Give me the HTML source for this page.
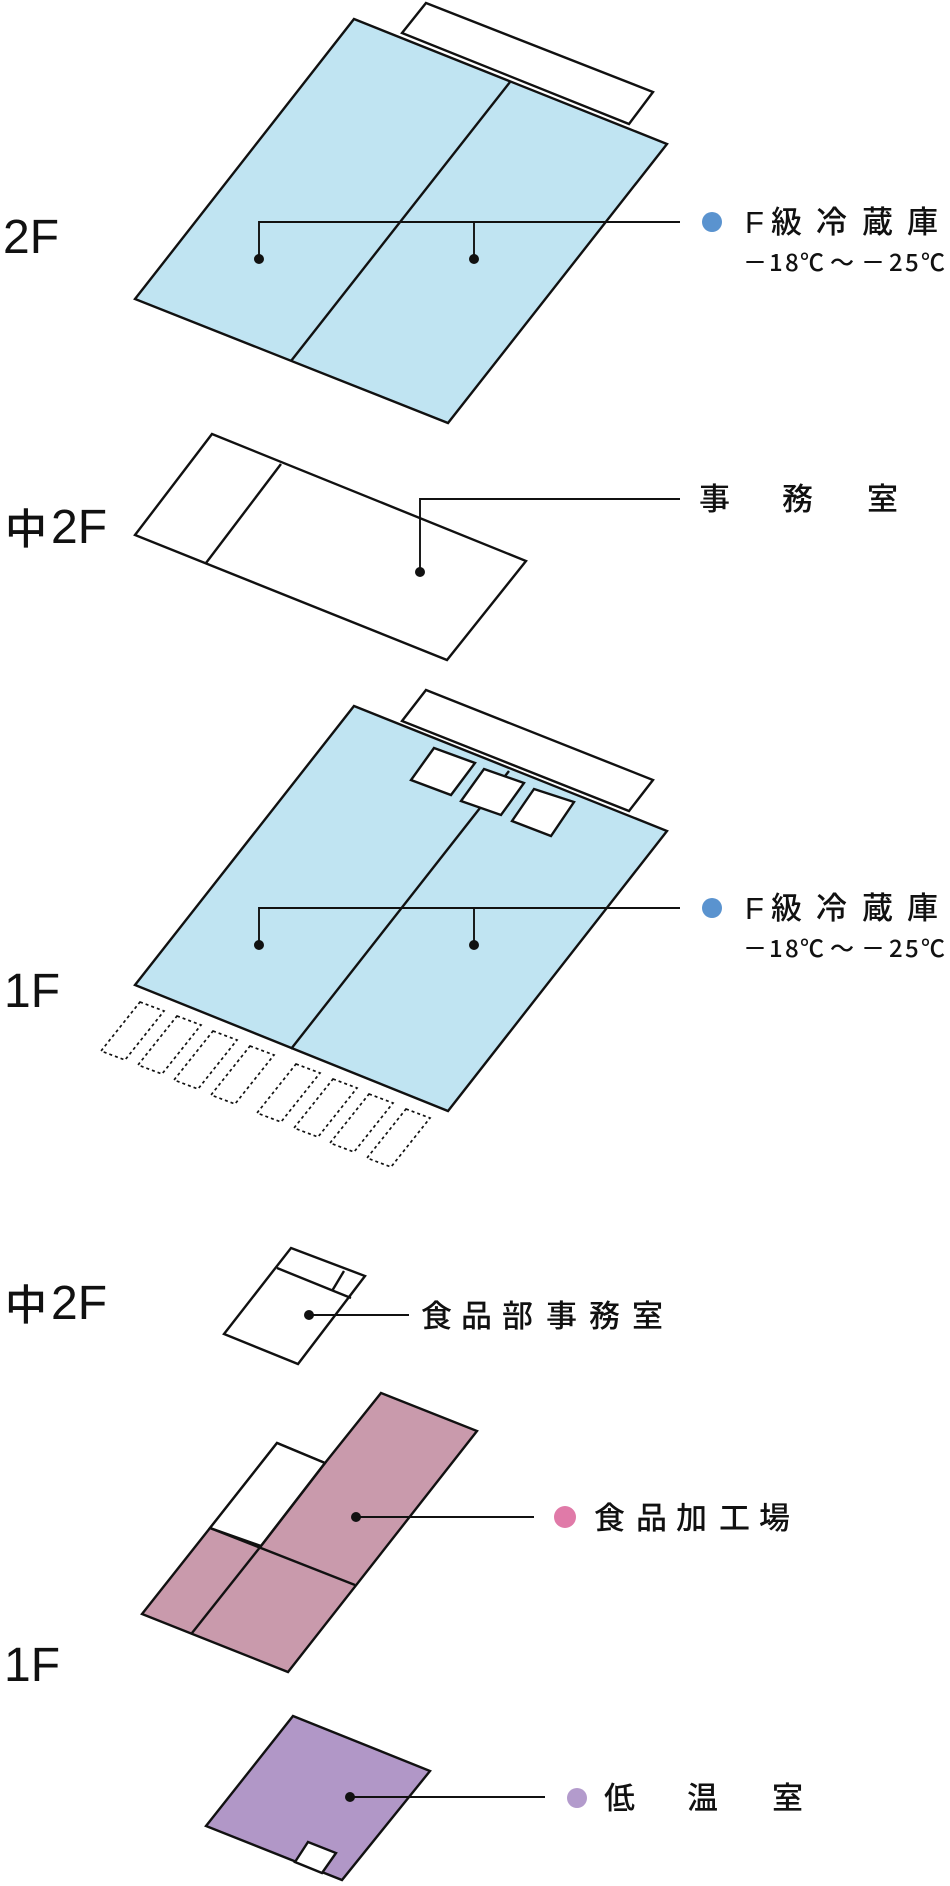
<!DOCTYPE html>
<html><head><meta charset="utf-8"><style>
html,body{margin:0;padding:0;background:#fff;}
svg{display:block;}
text{font-family:"Liberation Sans","Noto Sans CJK JP",sans-serif;fill:#111;}
.j{font-family:"Noto Sans CJK JP","Liberation Sans",sans-serif;font-weight:500;}
</style></head><body>
<svg width="950" height="1886" viewBox="0 0 950 1886" xmlns="http://www.w3.org/2000/svg">
<g stroke="#111" stroke-width="2.4" stroke-linejoin="miter" fill="none">
<!-- 2F -->
<polygon points="426,3 653,92 629,124 402,33" fill="#fff"/>
<polygon points="354,19 667,144 448,423 135,299" fill="#c0e4f2"/>
<line x1="510" y1="82" x2="291" y2="361"/>
<!-- 中2F office -->
<polygon points="212,434 526,561 447,660 135,535" fill="#fff"/>
<line x1="281" y1="464" x2="206" y2="563"/>
<!-- 1F -->
<polygon points="426,690 653,780 629,811 402,721" fill="#fff"/>
<polygon points="354,706 667,831 448,1111 135,985" fill="#c0e4f2"/>
<line x1="509" y1="771" x2="291" y2="1049"/>
<polygon points="434,748 475,763 451,795 411,780" fill="#fff"/>
<polygon points="484,769 524,783 501,815 461,801" fill="#fff"/>
<polygon points="534,789 574,802 551,836 512,821" fill="#fff"/>
<g stroke-width="1.7" stroke-dasharray="3,3">
<polygon points="140,1002 164,1011 125,1060 101,1051"/>
<polygon points="177,1016 201,1025 162,1074 138,1065"/>
<polygon points="213,1031 237,1040 198,1089 174,1080"/>
<polygon points="250,1046 274,1055 235,1104 211,1095"/>
<polygon points="296,1064 320,1073 281,1122 257,1113"/>
<polygon points="333,1079 357,1088 318,1137 294,1128"/>
<polygon points="369,1094 393,1103 354,1152 330,1143"/>
<polygon points="406,1109 430,1118 391,1167 367,1158"/>
</g>
<!-- small office -->
<polygon points="291,1248 365,1276 298,1364 224,1334" fill="#fff"/>
<line x1="277" y1="1268" x2="351" y2="1298"/>
<line x1="344" y1="1271" x2="332" y2="1291"/>
<!-- processing -->
<polygon points="381,1393 477,1431 288,1672 142,1614 210,1528 277,1443 325,1463" fill="#c99aac"/>
<polygon points="277,1443 325,1463 261,1546 210,1528" fill="#fff"/>
<line x1="210" y1="1528" x2="355" y2="1585"/>
<line x1="261" y1="1546" x2="192" y2="1633"/>
<line x1="325" y1="1463" x2="261" y2="1546"/>
<!-- low temp -->
<polygon points="293,1716 430,1771 342,1880 206,1826" fill="#b197c7"/>
<polygon points="308,1842 336,1853 322,1873 295,1862" fill="#fff"/>
<!-- leaders -->
<g stroke-width="1.9">
<polyline points="259,259 259,222 680,222"/><line x1="474" y1="222" x2="474" y2="259"/>
<polyline points="420,572 420,499 680,499"/>
<polyline points="259,945 259,908 680,908"/><line x1="474" y1="908" x2="474" y2="945"/>
<line x1="309" y1="1315" x2="409" y2="1315"/>
<line x1="356" y1="1517" x2="534" y2="1517"/>
<line x1="350" y1="1797" x2="545" y2="1797"/>
</g>
</g>
<g fill="#111">
<circle cx="259" cy="259" r="5"/><circle cx="474" cy="259" r="5"/>
<circle cx="420" cy="572" r="5"/>
<circle cx="259" cy="945" r="5"/><circle cx="474" cy="945" r="5"/>
<circle cx="309" cy="1315" r="5"/>
<circle cx="356" cy="1517" r="5"/>
<circle cx="350" cy="1797" r="5"/>
</g>
<circle cx="712" cy="222" r="10" fill="#5a93cf"/>
<circle cx="712" cy="908" r="10" fill="#5a93cf"/>
<circle cx="565" cy="1517" r="11" fill="#e07aa8"/>
<circle cx="577" cy="1798" r="10" fill="#b39bcc"/>

<!-- floor labels -->
<text x="3" y="253" font-size="48">2F</text>
<text class="j" x="5" y="544" font-size="42">中</text><text x="51" y="543" font-size="48">2F</text>
<text x="4" y="1007" font-size="48">1F</text>
<text class="j" x="5" y="1320" font-size="42">中</text><text x="51" y="1319" font-size="48">2F</text>
<text x="4" y="1681" font-size="48">1F</text>

<!-- F級冷蔵庫 x2 -->
<g font-size="31">
<text x="745" y="233" font-family="Liberation Sans">F</text>
<text class="j" x="771" y="233">級</text><text class="j" x="816" y="233">冷</text><text class="j" x="862" y="233">蔵</text><text class="j" x="907" y="233">庫</text>
<text x="745" y="919" font-family="Liberation Sans">F</text>
<text class="j" x="771" y="919">級</text><text class="j" x="816" y="919">冷</text><text class="j" x="862" y="919">蔵</text><text class="j" x="907" y="919">庫</text>
</g>
<g font-size="24">
<text class="j" x="743" y="271">－</text><text class="j" x="769" y="271">1</text><text class="j" x="785" y="271">8</text><text class="j" x="800" y="271">℃</text><text class="j" x="830" y="271">～</text><text class="j" x="861" y="271">－</text><text class="j" x="889" y="271">2</text><text class="j" x="905" y="271">5</text><text class="j" x="921" y="271">℃</text>
<text class="j" x="743" y="957">－</text><text class="j" x="769" y="957">1</text><text class="j" x="785" y="957">8</text><text class="j" x="800" y="957">℃</text><text class="j" x="830" y="957">～</text><text class="j" x="861" y="957">－</text><text class="j" x="889" y="957">2</text><text class="j" x="905" y="957">5</text><text class="j" x="921" y="957">℃</text>
</g>
<g font-size="31">
<text class="j" x="699" y="510">事</text><text class="j" x="782" y="510">務</text><text class="j" x="867" y="510">室</text>
<text class="j" x="421" y="1327">食</text><text class="j" x="461" y="1327">品</text><text class="j" x="502" y="1327">部</text><text class="j" x="546" y="1327">事</text><text class="j" x="589" y="1327">務</text><text class="j" x="632" y="1327">室</text>
<text class="j" x="594" y="1529">食</text><text class="j" x="636" y="1529">品</text><text class="j" x="676" y="1529">加</text><text class="j" x="719" y="1529">工</text><text class="j" x="759" y="1529">場</text>
<text class="j" x="604" y="1809">低</text><text class="j" x="687" y="1809">温</text><text class="j" x="772" y="1809">室</text>
</g>
</svg>
</body></html>
